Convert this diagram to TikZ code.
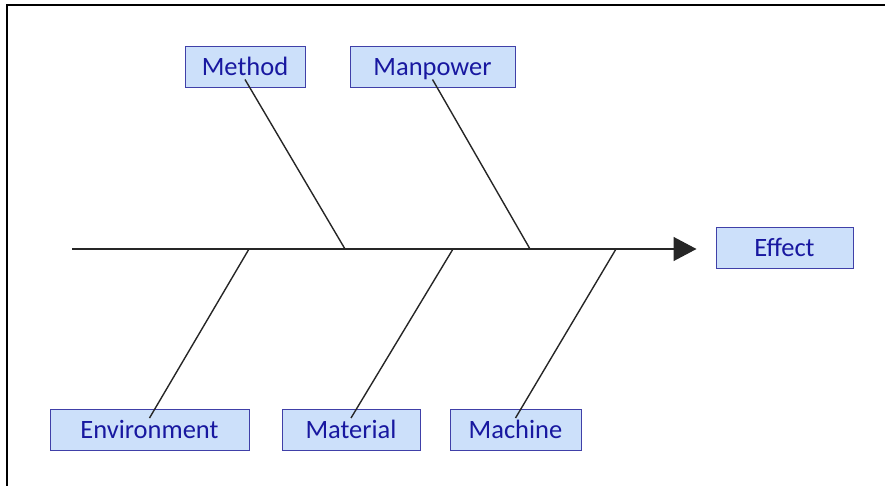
\documentclass[tikz,border=0pt]{standalone}
\usepackage{fontspec}
\setmainfont{Carlito}
\usetikzlibrary{arrows.meta}
\definecolor{boxfill}{HTML}{CCE0FA}
\definecolor{boxline}{HTML}{4040A8}
\definecolor{boxtext}{HTML}{1818A0}
\definecolor{bone}{HTML}{262626}
\tikzset{
  cause/.style={draw=boxline, fill=boxfill, line width=1pt, text=boxtext,
    font=\fontsize{26.5}{30}\selectfont, minimum height=41pt, inner sep=0pt,
    text height=19pt, text depth=2pt},
  bonestyle/.style={draw=bone, line width=1.4pt},
}
\begin{document}
\begin{tikzpicture}[x=1pt,y=-1pt]
\useasboundingbox (0,0) rectangle (885,486);
\draw[black, line width=1.5pt] (7,486) -- (7,5) -- (885,5);
% boxes
\node[cause, minimum width=120pt] (method) at (245,67.5) {Method};
\node[cause, minimum width=165pt] (manpower) at (432.5,67.5) {Manpower};
\node[cause, minimum width=137pt] (effect) at (784.5,248) {Effect};
\node[cause, minimum width=199pt] (environment) at (149.5,430) {Environment};
\node[cause, minimum width=138pt] (material) at (351,430) {Material};
\node[cause, minimum width=131pt] (machine) at (515.5,430) {Machine};
% spine
\coordinate (tail) at (72,249);
\coordinate (j1) at (345,249);
\coordinate (j2) at (530,249);
\coordinate (j3) at (249,249);
\coordinate (j4) at (453,249);
\coordinate (j5) at (616,249);
\draw[bonestyle, -{Triangle[length=23pt,width=24pt]}, shorten >=19pt] (tail) -- (tail -| effect.west);
% bones
\draw[bonestyle] ([yshift=9pt]method.south) -- (j1);
\draw[bonestyle] ([yshift=9pt]manpower.south) -- (j2);
\draw[bonestyle] ([yshift=-9pt]environment.north) -- (j3);
\draw[bonestyle] ([yshift=-9pt]material.north) -- (j4);
\draw[bonestyle] ([yshift=-9pt]machine.north) -- (j5);
\end{tikzpicture}
\end{document}
